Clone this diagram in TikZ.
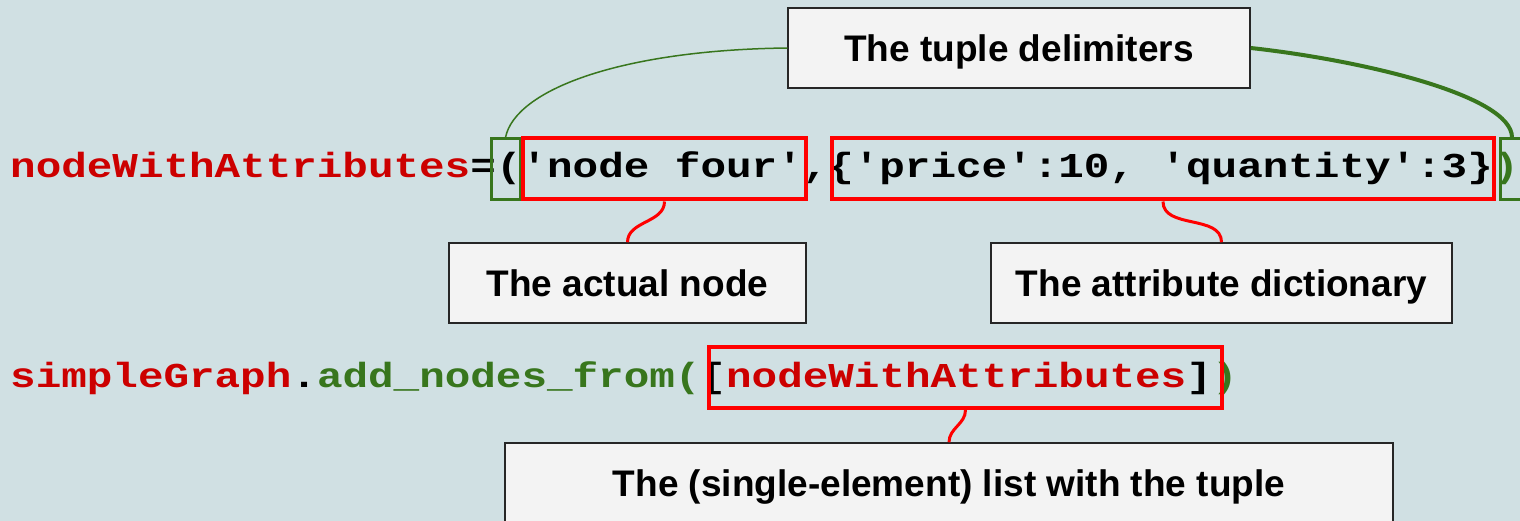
\documentclass[tikz,border=0pt]{standalone}
\usepackage{graphicx}
\usepackage{fontspec}
\setmainfont{Liberation Sans}
\newfontfamily\codefont{Liberation Mono}
\definecolor{bgc}{HTML}{D0E0E3}
\definecolor{codered}{HTML}{CC0000}
\definecolor{codegreen}{HTML}{38761D}
\definecolor{boxred}{HTML}{FF0000}
\definecolor{calloutfill}{HTML}{F3F3F3}
\newcommand\qq{\textquotesingle}
\newcommand\cd[1]{\scalebox{1}[0.82]{#1}}
\begin{document}
\begin{tikzpicture}[x=1pt,y=-1pt,
  code/.style={font=\codefont\bfseries\fontsize{42.6}{50}\selectfont, inner sep=0pt, anchor=base west},
  redbox/.style={draw=boxred, line width=4pt, inner sep=0pt, minimum height=61pt},
  greenbox/.style={draw=codegreen, line width=3pt, inner sep=0pt, minimum height=61pt},
  callout/.style={draw=black!85, line width=1.5pt, fill=calloutfill, inner sep=0pt, minimum height=80pt,
    text height=27pt, text depth=0pt, font=\bfseries\fontsize{37}{44}\selectfont},
  redlink/.style={draw=boxred, line width=3pt},
  greenthin/.style={draw=codegreen, line width=1.5pt},
  greenthick/.style={draw=codegreen, line width=4pt}]
\fill[bgc] (0,0) rectangle (1520,521);
\useasboundingbox (0,0) rectangle (1520,521);

% line 1
\node[code,text=codered] (l1a) at ({10+0*25.57},178) {\cd{nodeWithAttributes}};
\node[code,text=black] (l1b) at ({10+18*25.57},178) {\cd{=(\qq node four\qq,\{\qq price\qq:10, \qq quantity\qq:3\}}};
\node[code,text=codegreen] (l1c) at ({10+58*25.57},178) {\cd{)}};

% line 2
\node[code,text=codered] (l2a) at ({10+0*25.57},387) {\cd{simpleGraph}};
\node[code,text=black] (l2b) at ({10+11*25.57},387) {\cd{.}};
\node[code,text=codegreen] (l2c) at ({10+12*25.57},387) {\cd{add\_nodes\_from(}};
\node[code,text=black] (l2d) at ({10+27*25.57},387) {\cd{[}};
\node[code,text=codered] (l2e) at ({10+28*25.57},387) {\cd{nodeWithAttributes}};
\node[code,text=black] (l2f) at ({10+46*25.57},387) {\cd{]}};
\node[code,text=codegreen] (l2g) at ({10+47*25.57},387) {\cd{)}};

% highlight boxes
\node[greenbox, minimum width=29pt] (gA) at (505.5,169.5) {};
\node[greenbox, minimum width=24pt] (gB) at (1512,169.5) {};
\node[redbox, minimum width=283pt] (nf) at (664.5,169) {};
\node[redbox, minimum width=662pt] (dict) at (1163,169) {};
\node[redbox, minimum width=513pt] (lst) at (965.5,377.5) {};

% callouts
\node[callout, minimum width=462pt] (tup) at (1019,48) {The tuple delimiters};
\node[callout, minimum width=357pt] (act) at (627.5,283) {The actual node};
\node[callout, minimum width=461pt] (att) at (1221.5,283) {The attribute dictionary};
\node[callout, minimum width=888pt] (sgl) at (949,483) {The (single-element) list with the tuple};

% connectors
\draw[redlink] (nf.south) to[out=-90,in=90] (act.north);
\draw[redlink] (dict.south) to[out=-90,in=90] (att.north);
\draw[redlink] (lst.south) to[out=-90,in=90] (sgl.north);
\draw[greenthin] (gA.north) .. controls (515,90) and (620,50) .. (tup.west);
\draw[greenthick] (tup.east) .. controls (1360,60) and (1512,95) .. (gB.north);
\end{tikzpicture}
\end{document}
